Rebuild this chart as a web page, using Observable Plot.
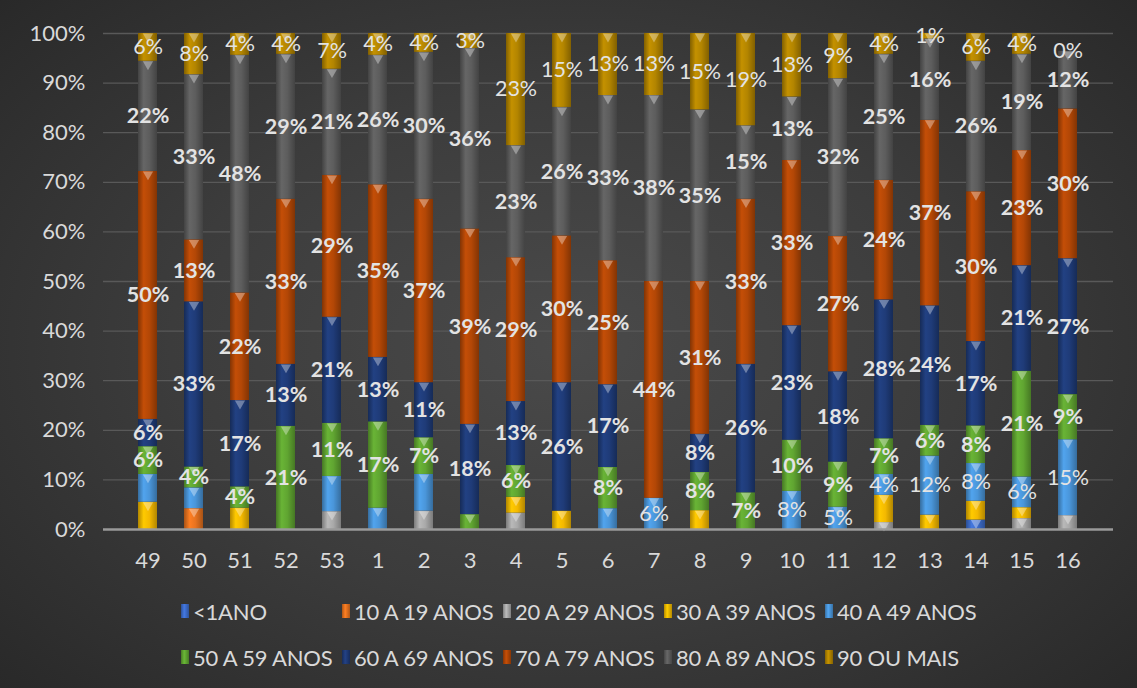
<!DOCTYPE html>
<html><head><meta charset="utf-8">
<script src="https://cdn.jsdelivr.net/npm/d3@7"></script>
<script src="https://cdn.jsdelivr.net/npm/@observablehq/plot@0.6"></script>
<style>
html,body{margin:0;padding:0;}
body{width:1137px;height:688px;overflow:hidden;position:relative;font-family:Lato,sans-serif;
 background:radial-gradient(ellipse 70% 75% at 50% 50%, #4a4a4a 0%, #3c3c3c 50%, #282828 100%);}
#chart{position:absolute;left:0;top:0;}
#legend{position:absolute;left:181px;top:588px;display:grid;grid-template-columns:repeat(5,161px);grid-auto-rows:46px;}
.item{display:flex;align-items:center;color:#d9d9d9;font-size:22px;white-space:nowrap;letter-spacing:-0.2px;}
.sw{width:8px;height:14px;margin-right:4px;flex:none;}
</style></head><body>
<svg width="0" height="0" style="position:absolute;left:0;top:0"><defs id="defs"></defs></svg>
<div id="chart"></div>
<div id="legend"></div>
<script>
const weeks = ["49","50","51","52","53","1","2","3","4","5","6","7","8","9","10","11","12","13","14","15","16"];
const ages = ["<1ANO","10 A 19 ANOS","20 A 29 ANOS","30 A 39 ANOS","40 A 49 ANOS","50 A 59 ANOS","60 A 69 ANOS","70 A 79 ANOS","80 A 89 ANOS","90 OU MAIS"];
const n = null;
// percentages per week (same order as weeks); null = no value
const u1  = [n,n,n,n,n,n,n,n,n,n,n,n,n,n,n,n,n,n,1.9,n,n];
const a10 = [n,4.2,n,n,n,n,n,n,n,n,n,n,n,n,n,n,n,n,n,n,n];
const a20 = [n,n,n,n,3.6,n,3.7,n,3.3,n,n,n,n,n,n,n,1.4,n,n,2.2,2.8];
const a30 = [5.5,n,4.3,n,n,n,n,n,3.2,3.7,n,n,3.8,n,n,n,5.5,2.9,3.8,2.2,n];
const a40 = [5.6,4.2,n,n,7.1,4.3,7.4,n,n,n,4.2,6.3,n,n,7.7,4.5,4.2,11.9,7.6,6.2,15.3];
const a50 = [5.6,4.2,4.3,20.8,10.7,17.4,7.4,3.0,6.4,n,8.3,n,7.7,7.4,10.3,9.1,7.2,6.2,7.6,21.3,9.1];
const a60 = [5.5,33.3,17.4,12.5,21.4,13.0,11.1,18.2,12.9,25.9,16.7,n,7.7,25.9,23.1,18.2,28.0,24.1,17.0,21.3,27.4];
const a70 = [50.0,12.5,21.7,33.3,28.6,34.8,37.0,39.4,29.0,29.6,25.0,43.7,30.8,33.3,33.3,27.3,24.1,37.4,30.2,23.2,30.2];
const a80 = [22.2,33.3,47.9,29.2,21.4,26.1,29.6,36.4,22.6,25.9,33.3,37.5,34.6,14.8,12.8,31.8,25.4,16.4,26.3,19.4,11.6];
const a90 = [5.6,8.3,4.4,4.2,7.2,4.4,3.8,3.0,22.6,14.9,12.5,12.5,15.4,18.6,12.8,9.1,4.2,1.1,5.6,4.2,0];
const series = [u1,a10,a20,a30,a40,a50,a60,a70,a80,a90];
const yTicks = [0,10,20,30,40,50,60,70,80,90,100];
// which labels are shown
const boldLabelAges = ["50 A 59 ANOS","60 A 69 ANOS","70 A 79 ANOS","80 A 89 ANOS"];
const plainLabelAges = ["90 OU MAIS"];
const labelled4049Weeks = ["7","10","11","12","13","14","15","16"];
const hiddenLabels = [["3","50 A 59 ANOS"]];
const baseColors = ["#3d6dcc","#e8731f","#a9a9a9","#f4b900","#4a96da","#60a531","#1f3b78","#b34706","#5d5d5d","#b38500"];

// gradients
const defs = d3.select("#defs");
baseColors.forEach((c, i) => {
  const g = defs.append("linearGradient").attr("id", "g" + i).attr("x1", "0").attr("x2", "1").attr("y1", "0").attr("y2", "0");
  const col = d3.color(c);
  [[0, col.darker(0.9)], [0.3, col.brighter(0.25)], [0.6, col], [1, col.darker(0.9)]].forEach(([o, cc]) =>
    g.append("stop").attr("offset", o).attr("stop-color", cc.formatHex()));
});

const data = [];
ages.forEach((a, i) => weeks.forEach((w, j) => {
  const v = series[i][j];
  if (v != null) data.push({week: w, age: a, value: v});
}));
const isHidden = d => hiddenLabels.some(([w, a]) => w === d.week && a === d.age);
const fmt = v => Math.round(v) + "%";
const boldText = d => (boldLabelAges.includes(d.age) && !isHidden(d)) ? fmt(d.value) : "";
const plainText = d => (plainLabelAges.includes(d.age) || (d.age === "40 A 49 ANOS" && labelled4049Weeks.includes(d.week))) ? fmt(d.value) : "";

const plot = Plot.plot({
  width: 1137, height: 590,
  marginLeft: 103, marginRight: 24, marginTop: 33, marginBottom: 61,
  style: {background: "transparent", color: "#d9d9d9", fontFamily: "Lato, sans-serif", fontSize: "21px"},
  x: {type: "band", domain: weeks, padding: 0.58, label: null},
  y: {domain: [0, 100], label: null},
  color: {type: "ordinal", domain: ages, range: ages.map((a, i) => `url(#g${i})`)},
  marks: [
    Plot.ruleY(yTicks.filter(t => t > 0), {stroke: "#595959", strokeWidth: 1.3}),
    Plot.axisY({ticks: yTicks, tickFormat: d => d + "%", tickSize: 0, tickPadding: 18, fontSize: 22, label: null}),
    Plot.axisX({tickSize: 0, tickPadding: 23, fontSize: 22, label: null}),
    Plot.barY(data, {x: "week", y: "value", fill: "age"}),
    Plot.dot(data, Plot.stackY2({x: "week", y: "value", filter: d => d.value > 0, symbol: "triangle", rotate: 180, r: 3.8, fill: "white", fillOpacity: 0.35, dy: 3})),
    Plot.ruleY([0], {stroke: "#9a9a9a", strokeWidth: 2.5}),
    Plot.text(data, Plot.stackY({x: "week", y: "value", text: boldText, fontWeight: "bold", fontSize: 21.5, fill: "#e3e3e3"})),
    Plot.text(data, Plot.stackY({x: "week", y: "value", text: plainText, fontSize: 21.5, fill: "#e3e3e3"}))
  ]
});
document.getElementById("chart").appendChild(plot);

const legend = d3.select("#legend");
ages.forEach((a, i) => {
  const c = d3.color(baseColors[i]);
  const it = legend.append("div").attr("class", "item");
  it.append("div").attr("class", "sw").style("background",
    `linear-gradient(to right, ${c.darker(0.8).formatHex()}, ${c.brighter(0.3).formatHex()} 40%, ${c.darker(0.8).formatHex()})`);
  it.append("span").text(a);
});
</script>
</body></html>
